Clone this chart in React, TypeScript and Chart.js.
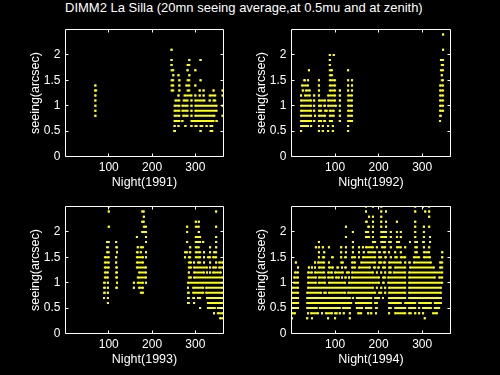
import React, { useEffect, useRef } from "react";
import { Chart, registerables } from "chart.js";

Chart.register(...registerables);

// ---------- data ----------
// Each entry: [seeing level (arcsec), list of [first night, last night] observed at that level]
type Level = [number, [number, number][]];

const TITLE = "DIMM2 La Silla (20mn seeing average,at 0.5mu and at zenith)";
const xTicks = [100, 200, 300];
const yTicks = [0, 0.5, 1, 1.5, 2];
const X_MIN = 0;
const X_MAX = 365;
const Y_MIN = 0;
const Y_MAX = 2.5;
const Y_LABEL = "seeing(arcsec)";

const seeing1991: Level[] = [
  [2.1, [[245, 245]]],
  [1.9, [[245, 245], [286, 286], [312, 312]]],
  [1.8, [[245, 245], [282, 286]]],
  [1.7, [[245, 249], [282, 282], [300, 300]]],
  [1.6, [[249, 249], [261, 261], [286, 286]]],
  [1.5, [[245, 249], [263, 263], [282, 286], [312, 312]]],
  [1.4, [[69, 69], [245, 249], [263, 263], [279, 286], [300, 300]]],
  [1.3, [[68, 71], [245, 249], [263, 263], [282, 286], [310, 310], [319, 319], [342, 342], [363, 363]]],
  [1.2, [[69, 69], [261, 261], [275, 291], [300, 300], [310, 310], [319, 319], [333, 346], [363, 363]]],
  [1.1, [[69, 69], [254, 263], [273, 282], [291, 291], [300, 321], [333, 333], [342, 346]]],
  [1.0, [[69, 69], [252, 263], [270, 282], [291, 291], [300, 349], [363, 363]]],
  [0.9, [[69, 69], [252, 263], [270, 282], [291, 291], [300, 349]]],
  [0.8, [[69, 69], [252, 263], [272, 282], [291, 291], [300, 344], [363, 363]]],
  [0.7, [[252, 263], [270, 270], [291, 342], [349, 349]]],
  [0.6, [[252, 252], [261, 261], [277, 277], [291, 291], [300, 303], [312, 316], [326, 326], [335, 339]]],
  [0.5, [[251, 253], [312, 312], [335, 339]]],
];

const seeing1992: Level[] = [
  [2.4, [[348, 348]]],
  [2.1, [[348, 348]]],
  [2.0, [[88, 88], [97, 97]]],
  [1.9, [[88, 88], [343, 348]]],
  [1.8, [[88, 88], [345, 348]]],
  [1.7, [[40, 40], [88, 93], [130, 130], [343, 348]]],
  [1.6, [[88, 93], [345, 345]]],
  [1.5, [[29, 31], [38, 38], [63, 63], [88, 100], [130, 130], [139, 139], [345, 348]]],
  [1.4, [[24, 38], [63, 63], [88, 100], [130, 130], [139, 139], [341, 348]]],
  [1.3, [[26, 26], [33, 42], [63, 63], [88, 100], [111, 111], [130, 130], [139, 139], [341, 348]]],
  [1.2, [[22, 22], [31, 42], [52, 52], [63, 63], [84, 100], [111, 111], [130, 139], [341, 348]]],
  [1.1, [[22, 45], [52, 52], [63, 77], [84, 100], [111, 111], [130, 139], [341, 348]]],
  [1.0, [[22, 45], [52, 52], [63, 68], [75, 77], [84, 102], [111, 111], [130, 139], [341, 348]]],
  [0.9, [[22, 45], [52, 52], [63, 68], [77, 81], [88, 97], [111, 111], [130, 139], [341, 348]]],
  [0.8, [[22, 45], [54, 54], [63, 77], [88, 97], [111, 111], [130, 139], [341, 343]]],
  [0.7, [[22, 45], [52, 52], [63, 68], [75, 77], [88, 93], [111, 111], [130, 139], [341, 341]]],
  [0.6, [[22, 38], [45, 45], [63, 63], [72, 72], [84, 84], [95, 95], [130, 130]]],
  [0.5, [[22, 22], [63, 63], [72, 72], [84, 84], [95, 95], [130, 130]]],
];

const seeing1993: Level[] = [
  [2.5, [[100, 100]]],
  [2.4, [[100, 100], [177, 181], [348, 348]]],
  [2.3, [[181, 181]]],
  [2.2, [[177, 181], [301, 301], [308, 308]]],
  [2.1, [[100, 100], [181, 186], [281, 281], [301, 308], [348, 348]]],
  [2.0, [[177, 186], [281, 281], [308, 308]]],
  [1.9, [[165, 165], [186, 186], [301, 311], [348, 348]]],
  [1.8, [[96, 100], [117, 117], [186, 186], [281, 281], [301, 311], [318, 318], [348, 348]]],
  [1.7, [[96, 98], [117, 119], [167, 167], [174, 179], [288, 288], [301, 308], [334, 334], [348, 348]]],
  [1.6, [[96, 100], [119, 119], [165, 167], [174, 174], [186, 186], [276, 281], [288, 288], [301, 311], [320, 320], [334, 334], [343, 348]]],
  [1.5, [[91, 100], [117, 117], [165, 179], [186, 186], [276, 276], [285, 288], [301, 311], [320, 320], [329, 334], [341, 348]]],
  [1.4, [[91, 100], [117, 117], [165, 179], [285, 290], [297, 297], [306, 311], [320, 320], [334, 334], [348, 348], [355, 364]]],
  [1.3, [[91, 100], [117, 119], [165, 186], [285, 290], [297, 327], [334, 334], [341, 348], [355, 364]]],
  [1.2, [[91, 98], [117, 119], [170, 186], [285, 285], [297, 320], [327, 327], [334, 334], [341, 359]]],
  [1.1, [[91, 98], [117, 119], [167, 186], [285, 290], [297, 364]]],
  [1.0, [[89, 91], [98, 98], [119, 119], [158, 158], [167, 179], [186, 186], [283, 364]]],
  [0.9, [[89, 91], [98, 98], [117, 119], [158, 158], [170, 179], [283, 283], [295, 318], [325, 364]]],
  [0.8, [[89, 91], [98, 98], [174, 179], [283, 285], [295, 318], [325, 364]]],
  [0.7, [[89, 89], [98, 98], [283, 285], [295, 297], [306, 311], [327, 364]]],
  [0.6, [[98, 98], [283, 285], [297, 297], [329, 364]]],
  [0.5, [[311, 311], [329, 345], [352, 364]]],
  [0.4, [[343, 343], [352, 364]]],
  [0.3, [[357, 364]]],
];

const seeing1994: Level[] = [
  [2.5, [[171, 171], [187, 187], [206, 206], [284, 284], [302, 302], [316, 316]]],
  [2.4, [[171, 171], [206, 206], [217, 217], [284, 284], [307, 307], [316, 316]]],
  [2.3, [[178, 178], [187, 187], [206, 206], [316, 316]]],
  [2.2, [[171, 173], [187, 187], [206, 206], [217, 217], [242, 242], [284, 284]]],
  [2.1, [[125, 125], [176, 178], [187, 187], [206, 206], [217, 217], [284, 284], [304, 304], [316, 316]]],
  [2.0, [[141, 141], [171, 176], [187, 187], [206, 217], [228, 228], [242, 242], [251, 251], [284, 284], [304, 304]]],
  [1.9, [[125, 125], [171, 178], [187, 187], [206, 217], [228, 228], [242, 242], [251, 251], [284, 284], [304, 304], [318, 318]]],
  [1.8, [[63, 63], [141, 141], [187, 192], [206, 215], [224, 228], [242, 247], [272, 272], [284, 288], [302, 304], [318, 318]]],
  [1.7, [[56, 56], [63, 63], [72, 72], [86, 86], [114, 114], [125, 125], [141, 141], [155, 155], [164, 164], [171, 187], [196, 196], [208, 215], [228, 228], [242, 251], [261, 261], [284, 288], [304, 304], [316, 316]]],
  [1.6, [[63, 63], [75, 75], [114, 114], [125, 125], [141, 141], [155, 155], [166, 166], [176, 192], [201, 203], [212, 215], [224, 224], [238, 238], [251, 251], [284, 288], [304, 316], [346, 346]]],
  [1.5, [[63, 63], [72, 75], [93, 95], [114, 114], [123, 125], [139, 146], [155, 155], [164, 192], [201, 206], [215, 217], [228, 228], [238, 242], [251, 261], [281, 293], [304, 318], [346, 346]]],
  [1.4, [[10, 10], [54, 54], [61, 75], [86, 86], [114, 118], [139, 146], [160, 192], [201, 206], [212, 215], [224, 251], [261, 261], [270, 272], [281, 320], [341, 346]]],
  [1.3, [[15, 15], [40, 40], [47, 47], [54, 54], [63, 75], [86, 95], [105, 107], [116, 116], [123, 125], [139, 146], [155, 180], [189, 192], [199, 201], [210, 215], [224, 228], [238, 261], [272, 327], [341, 346]]],
  [1.2, [[8, 15], [38, 47], [54, 75], [84, 93], [100, 118], [127, 132], [139, 187], [196, 196], [206, 206], [215, 215], [224, 228], [235, 261], [270, 346]]],
  [1.1, [[6, 15], [38, 56], [63, 77], [84, 95], [102, 109], [116, 116], [123, 125], [132, 132], [139, 201], [210, 215], [222, 261], [270, 329], [339, 346]]],
  [1.0, [[6, 15], [38, 56], [63, 77], [86, 123], [132, 201], [210, 212], [222, 261], [270, 346]]],
  [0.9, [[1, 15], [38, 187], [196, 196], [206, 206], [215, 215], [224, 261], [270, 343]]],
  [0.8, [[1, 15], [36, 68], [75, 79], [86, 123], [130, 192], [201, 206], [215, 215], [224, 261], [270, 343]]],
  [0.7, [[1, 15], [36, 134], [141, 141], [150, 183], [192, 201], [210, 210], [224, 261], [270, 343]]],
  [0.6, [[1, 15], [36, 137], [148, 183], [192, 196], [224, 251], [261, 284], [293, 320], [329, 343]]],
  [0.5, [[1, 15], [36, 58], [65, 111], [118, 134], [150, 162], [171, 183], [194, 196], [224, 228], [238, 261], [270, 284], [293, 293], [302, 320], [329, 339]]],
  [0.4, [[1, 8], [38, 38], [45, 61], [70, 70], [79, 93], [100, 104], [111, 111], [120, 120], [134, 134], [153, 160], [176, 176], [183, 183], [194, 194], [224, 224], [238, 261], [270, 274], [284, 284], [293, 293], [302, 302], [325, 334]]],
  [0.3, [[1, 1], [36, 36], [47, 47], [84, 84], [100, 100], [134, 134], [306, 306]]],
];

// ---------- layout & style ----------
const W = 500;
const H = 375;
const Y_AXIS_W = 40;
const X_AXIS_H = 36;
const TICK_LEN = 3;
const YELLOW = "#ffff00";
const WHITE = "#ffffff";
const FONT = "'Liberation Sans', Arial, Helvetica, sans-serif";

// plot boxes: [left, right, top, bottom] in page pixels
const panels: { year: number; levels: Level[]; box: [number, number, number, number] }[] = [
  { year: 1991, levels: seeing1991, box: [65.5, 223.5, 29.5, 156.5] },
  { year: 1992, levels: seeing1992, box: [291.5, 450.5, 29.5, 156.5] },
  { year: 1993, levels: seeing1993, box: [65.5, 223.5, 206.5, 333.5] },
  { year: 1994, levels: seeing1994, box: [291.5, 450.5, 206.5, 333.5] },
];

function toPoints(levels: Level[]) {
  const pts: { x: number; y: number | null }[] = [];
  for (const [level, runs] of levels) {
    for (const [a, b] of runs) {
      pts.push({ x: a, y: level }, { x: b, y: level }, { x: b, y: null });
    }
  }
  return pts;
}

const boxPlugin = {
  id: "matlabBox",
  afterDraw(chart: any) {
    const { ctx, chartArea: a, scales } = chart;
    const xs = scales.x;
    const ys = scales.y;
    ctx.save();
    ctx.strokeStyle = WHITE;
    ctx.lineWidth = 1;
    ctx.beginPath();
    ctx.rect(a.left, a.top, a.right - a.left, a.bottom - a.top);
    for (const v of xTicks) {
      const p = Math.floor(xs.getPixelForValue(v)) + 0.5;
      ctx.moveTo(p, a.bottom);
      ctx.lineTo(p, a.bottom - TICK_LEN);
      ctx.moveTo(p, a.top);
      ctx.lineTo(p, a.top + TICK_LEN);
    }
    for (const v of yTicks) {
      const p = Math.floor(ys.getPixelForValue(v)) + 0.5;
      ctx.moveTo(a.left, p);
      ctx.lineTo(a.left + TICK_LEN, p);
      ctx.moveTo(a.right, p);
      ctx.lineTo(a.right - TICK_LEN, p);
    }
    ctx.stroke();
    ctx.restore();
  },
};

function Panel({ year, levels, box }: { year: number; levels: Level[]; box: [number, number, number, number] }) {
  const ref = useRef<HTMLCanvasElement | null>(null);
  useEffect(() => {
    if (!ref.current) return;
    const [L, R, T, B] = box;
    const chart = new Chart(ref.current, {
      type: "scatter",
      data: {
        datasets: [
          {
            data: toPoints(levels) as any,
            showLine: true,
            spanGaps: false,
            borderColor: YELLOW,
            backgroundColor: YELLOW,
            borderWidth: 2,
            borderCapStyle: "butt",
            pointStyle: "rect",
            pointRadius: 1.42,
            pointHoverRadius: 1.42,
            pointBorderWidth: 0,
            tension: 0,
          } as any,
        ],
      },
      options: {
        animation: false,
        responsive: false,
        events: [],
        layout: {
          padding: { left: L - Y_AXIS_W, right: W - R, top: T, bottom: H - B - X_AXIS_H },
        },
        plugins: {
          legend: { display: false },
          tooltip: { enabled: false },
        },
        scales: {
          x: {
            type: "linear",
            position: "bottom",
            min: X_MIN,
            max: X_MAX,
            bounds: "data",
            afterBuildTicks: (s: any) => {
              s.ticks = xTicks.map((value) => ({ value }));
            },
            afterFit: (s: any) => {
              s.height = X_AXIS_H;
            },
            grid: { display: false, drawTicks: false },
            border: { display: false },
            ticks: {
              color: WHITE,
              font: { size: 12, family: FONT },
              padding: 4,
              maxRotation: 0,
              autoSkip: false,
              callback: (v: any) => String(v),
            },
            title: {
              display: true,
              text: `Night(${year})`,
              color: WHITE,
              font: { size: 12.5, family: FONT },
              padding: { top: 0, bottom: 2.2 },
            },
          },
          y: {
            type: "linear",
            position: "left",
            min: Y_MIN,
            max: Y_MAX,
            bounds: "data",
            afterBuildTicks: (s: any) => {
              s.ticks = yTicks.map((value) => ({ value }));
            },
            afterFit: (s: any) => {
              s.width = Y_AXIS_W;
            },
            grid: { display: false, drawTicks: false },
            border: { display: false },
            ticks: {
              color: WHITE,
              font: { size: 12, family: FONT },
              padding: 5,
              autoSkip: false,
              callback: (v: any) => String(v),
            },
            title: {
              display: true,
              text: Y_LABEL,
              color: WHITE,
              font: { size: 12.5, family: FONT },
              padding: { top: 2.4, bottom: 0 },
            },
          },
        },
      } as any,
      plugins: [boxPlugin],
    });
    return () => chart.destroy();
  }, [year, levels, box]);
  return (
    <canvas
      ref={ref}
      width={W}
      height={H}
      style={{ position: "absolute", left: 0, top: 0, width: W, height: H }}
    />
  );
}

export default function App() {
  useEffect(() => {
    document.body.style.margin = "0";
    document.body.style.background = "#000";
  }, []);
  return (
    <div
      style={{
        position: "fixed",
        left: 0,
        top: 0,
        width: W,
        height: H,
        background: "#000",
        overflow: "hidden",
      }}
    >
      <div
        style={{
          position: "absolute",
          left: 65,
          top: 0,
          height: 16,
          lineHeight: "16px",
          fontSize: 13,
          fontFamily: FONT,
          color: WHITE,
          whiteSpace: "nowrap",
        }}
      >
        {TITLE}
      </div>
      {panels.map((p) => (
        <Panel key={p.year} year={p.year} levels={p.levels} box={p.box} />
      ))}
    </div>
  );
}
